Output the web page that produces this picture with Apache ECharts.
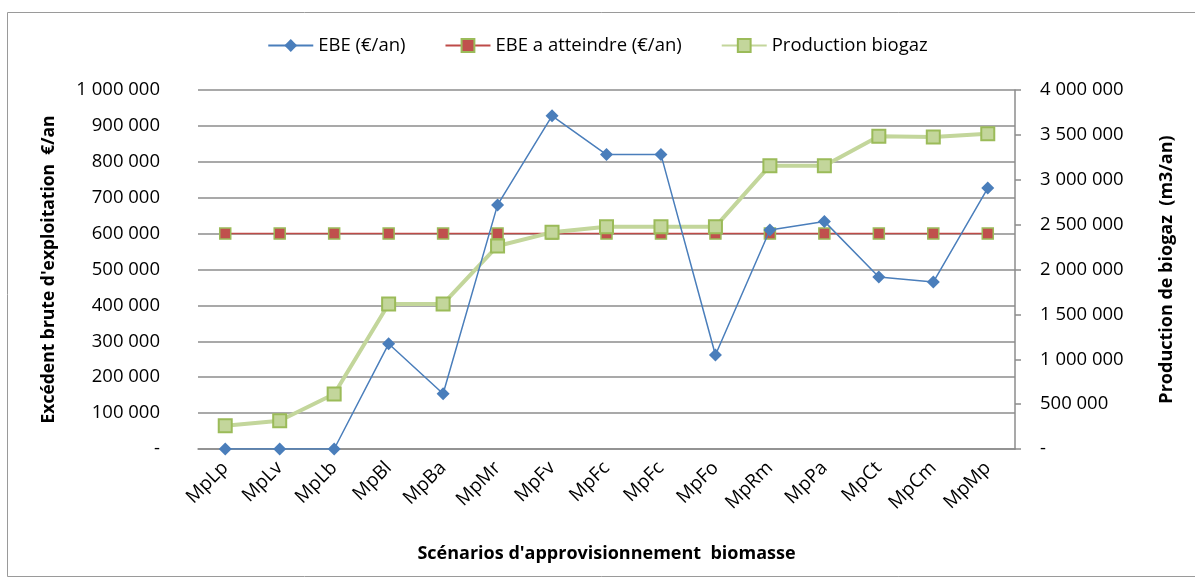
<!DOCTYPE html>
<html>
<head>
<meta charset="utf-8">
<script src="https://cdn.jsdelivr.net/npm/echarts@6/dist/echarts.min.js"></script>
<style>
  html, body { margin: 0; padding: 0; background: #fff; }
  #chart { width: 1195px; height: 579px; }
</style>
</head>
<body>
<div id="chart"></div>
<script>
// scénarios (axe X)
var categories = ['MpLp', 'MpLv', 'MpLb', 'MpBl', 'MpBa', 'MpMr', 'MpFv', 'MpFc', 'MpFc', 'MpFo', 'MpRm', 'MpPa', 'MpCt', 'MpCm', 'MpMp'];
// EBE (€/an) - axe gauche
var ebe = [0, 0, 0, 293000, 154000, 680000, 928000, 820000, 820000, 262000, 610000, 634000, 479000, 465000, 727000];
// EBE a atteindre (€/an)
var ebeCible = [600000, 600000, 600000, 600000, 600000, 600000, 600000, 600000, 600000, 600000, 600000, 600000, 600000, 600000, 600000];
// Production biogaz (m3/an) - axe droit
var biogaz = [258000, 315000, 613000, 1616000, 1616000, 2262000, 2414000, 2477000, 2477000, 2477000, 3157000, 3157000, 3485000, 3477000, 3513000];

var FONT = '"Open Sans", sans-serif';

// format "1 000 000", zéro -> "-"
function fmt(v) {
  if (v === 0) return '-';
  return String(v).replace(/\B(?=(\d{3})+(?!\d))/g, ' ');
}

var myChart = echarts.init(document.getElementById('chart'));
var option = {
  animation: false,
  textStyle: { fontFamily: FONT, color: '#000' },
  graphic: [{
    type: 'rect',
    shape: { x: 7.5, y: 12.5, width: 1200, height: 564 },
    style: { fill: 'none', stroke: '#9a9a9a', lineWidth: 1 },
    silent: true
  }],
  legend: {
    top: 31,
    left: 'center',
    itemGap: 39,
    itemWidth: 45,
    itemHeight: 16,
    textStyle: { fontFamily: FONT, fontSize: 18.5, color: '#000' },
    data: ['EBE (€/an)', 'EBE a atteindre (€/an)', 'Production biogaz']
  },
  grid: { left: 198, right: 180, top: 90, bottom: 130 },
  xAxis: {
    type: 'category',
    data: categories,
    boundaryGap: true,
    name: "Scénarios d'approvisionnement  biomasse",
    nameLocation: 'middle',
    nameGap: 96,
    nameTextStyle: { fontFamily: FONT, fontSize: 18, fontWeight: 'bold', color: '#000' },
    axisLine: { show: true, lineStyle: { color: '#8c8c8c', width: 1.5 } },
    axisTick: { show: false },
    axisLabel: { rotate: 45, interval: 0, margin: 16, fontSize: 19, color: '#000' }
  },
  yAxis: [{
    type: 'value',
    min: 0,
    max: 1000000,
    interval: 100000,
    name: "Excédent brute d'exploitation  €/an",
    nameLocation: 'middle',
    nameGap: 140,
    nameTextStyle: { fontFamily: FONT, fontSize: 17.5, fontWeight: 'bold', color: '#000' },
    axisLine: { show: false },
    axisTick: { show: false },
    axisLabel: { fontSize: 18.5, color: '#000', margin: 38, formatter: fmt },
    splitLine: { lineStyle: { color: '#8c8c8c', width: 1.5 } }
  }, {
    type: 'value',
    position: 'right',
    min: 0,
    max: 4000000,
    interval: 500000,
    name: 'Production de biogaz  (m3/an)',
    nameLocation: 'middle',
    nameGap: 143,
    nameRotate: 90,
    nameTextStyle: { fontFamily: FONT, fontSize: 18, fontWeight: 'bold', color: '#000' },
    axisLine: { show: true, lineStyle: { color: '#8c8c8c', width: 1.5 } },
    axisTick: { show: true, length: 6, lineStyle: { color: '#8c8c8c', width: 1.5 } },
    axisLabel: { fontSize: 18.5, color: '#000', margin: 25, formatter: fmt },
    splitLine: { show: false }
  }],
  series: [{
    name: 'EBE a atteindre (€/an)',
    type: 'line',
    yAxisIndex: 0,
    data: ebeCible,
    z: 2,
    symbol: 'rect',
    symbolSize: 11,
    lineStyle: { color: '#be4b48', width: 1.5 },
    itemStyle: { color: '#c0504d', borderColor: '#9bbb59', borderWidth: 1.5 }
  }, {
    name: 'Production biogaz',
    type: 'line',
    yAxisIndex: 1,
    data: biogaz,
    z: 3,
    symbol: 'rect',
    symbolSize: 13,
    lineStyle: { color: '#c3d69b', width: 4 },
    itemStyle: { color: '#c3d69b', borderColor: '#9bbb59', borderWidth: 2 }
  }, {
    name: 'EBE (€/an)',
    type: 'line',
    yAxisIndex: 0,
    data: ebe,
    z: 4,
    symbol: 'diamond',
    symbolSize: [13, 13],
    lineStyle: { color: '#4a7ebb', width: 1.5 },
    itemStyle: { color: '#4a7ebb' }
  }]
};
myChart.setOption(option);
</script>
</body>
</html>
